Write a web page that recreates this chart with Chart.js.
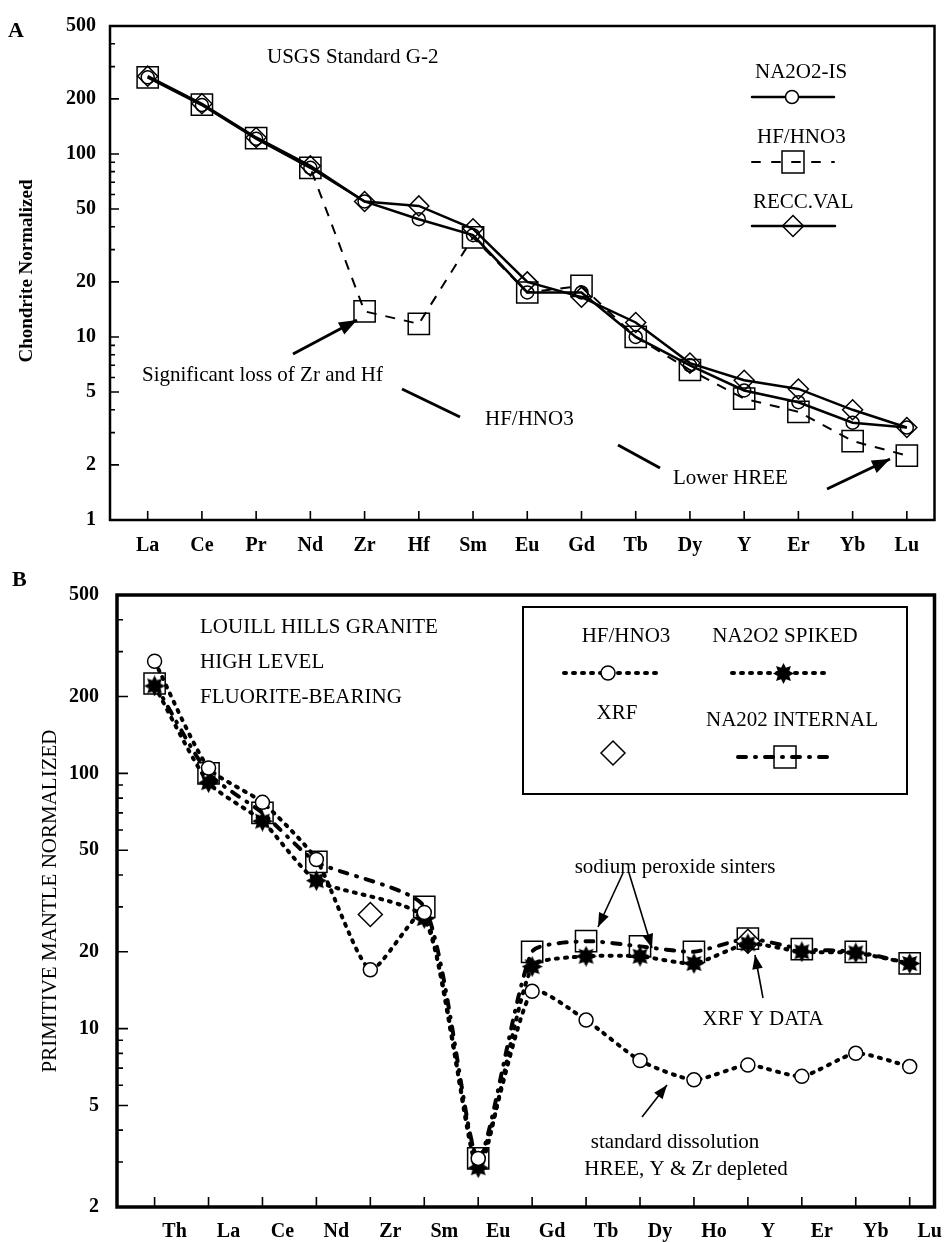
<!DOCTYPE html>
<html>
<head>
<meta charset="utf-8">
<script src="https://cdn.jsdelivr.net/npm/chart.js"></script>
<style>
  body { margin: 0; background: #fff; }
  canvas { position: absolute; left: 0; }
  #chartA { top: 0; }
  #chartB { top: 560px; }
</style>
</head>
<body>
<canvas id="chartA" width="951" height="560"></canvas>
<canvas id="chartB" width="951" height="682"></canvas>
<script>
// ---- A: USGS standard G-2, chondrite normalized
const elementsA = ['La','Ce','Pr','Nd','Zr','Hf','Sm','Eu','Gd','Tb','Dy','Y','Er','Yb','Lu'];
const na2o2IS  = [262, 185, 121, 84, 55, 44, 36, 17.5, 17.5, 10, 7.0, 5.1, 4.4, 3.4, 3.2];
const hfHno3A  = [262, 186, 122, 84, 13.8, 11.8, 35, 17.5, 19, 10, 6.6, 4.6, 3.9, 2.7, 2.25];
const reccVal  = [266, 188, 123, 86, 55, 52, 39, 20, 16.5, 12, 7.2, 5.8, 5.2, 4.0, 3.2];
const yTicksA  = [1, 2, 5, 10, 20, 50, 100, 200, 500];

// ---- B: Louill Hills granite, primitive mantle normalized
const elementsB    = ['Th','La','Ce','Nd','Zr','Sm','Eu','Gd','Tb','Dy','Ho','Y','Er','Yb','Lu'];
const hfHno3B      = [275, 105, 77, 46, 17, 28.5, 3.1, 14, 10.8, 7.5, 6.3, 7.2, 6.5, 8.0, 7.1];
const na2o2Spiked  = [220, 92, 65, 38, null, 27, 2.85, 17.5, 19.2, 19.2, 18, 21.5, 20, 19.8, 18];
const xrf          = [null, null, null, null, 28, null, null, null, null, null, null, 22, null, null, null];
const na2o2Intern  = [225, 100, 70, 45, null, 30, 3.1, 20, 22, 21, 20, 22.5, 20.5, 20, 18];
const yTicksB      = [2, 5, 10, 20, 50, 100, 200, 500];

const SERIF = '"Liberation Serif", "Times New Roman", serif';
const CLEAR = 'rgba(0,0,0,0)';

const pts = arr => arr.map((v, i) => ({ x: i, y: v }));

function logTicks(min, max) {
  const out = [];
  for (let e = 0; e < 4; e++) {
    for (let s = 1; s < 10; s++) {
      const v = s * Math.pow(10, e);
      if (v >= min && v <= max) out.push(v);
    }
  }
  return out;
}

function starImage(size) {
  const c = document.createElement('canvas');
  c.width = c.height = size;
  const g = c.getContext('2d');
  const m = size / 2;
  g.beginPath();
  for (let i = 0; i < 16; i++) {
    const r = i % 2 ? size * 0.3 : m;
    const a = -Math.PI / 2 + i * Math.PI / 8;
    g.lineTo(m + r * Math.cos(a), m + r * Math.sin(a));
  }
  g.closePath();
  g.fillStyle = '#000';
  g.fill();
  return c;
}
const star = starImage(21);

// frame round the plot and inward tick marks
function frame(lw, majorLen, minorLen, xLen, labelled) {
  return {
    id: 'frame',
    afterDraw(chart) {
      const { ctx, chartArea: a, scales: { x, y } } = chart;
      ctx.save();
      ctx.strokeStyle = '#000';
      ctx.lineWidth = lw;
      ctx.strokeRect(a.left, a.top, a.right - a.left, a.bottom - a.top);
      ctx.lineWidth = 1.6;
      ctx.beginPath();
      y.ticks.forEach(t => {
        const py = y.getPixelForValue(t.value);
        const len = labelled.includes(t.value) ? majorLen : minorLen;
        ctx.moveTo(a.left, py);
        ctx.lineTo(a.left + len, py);
      });
      x.ticks.forEach(t => {
        const px = x.getPixelForValue(t.value);
        ctx.moveTo(px, a.bottom);
        ctx.lineTo(px, a.bottom - xLen);
      });
      ctx.stroke();
      ctx.restore();
    }
  };
}

function txt(c, s, x, y, font, align) {
  c.font = font;
  c.textAlign = align || 'left';
  c.textBaseline = 'middle';
  c.fillText(s, x, y);
}

function arrow(c, x1, y1, x2, y2, lw, head) {
  c.lineWidth = lw;
  c.beginPath();
  c.moveTo(x1, y1);
  c.lineTo(x2, y2);
  c.stroke();
  if (!head) return;
  const ang = Math.atan2(y2 - y1, x2 - x1);
  const w = head * 0.38;
  c.beginPath();
  c.moveTo(x2, y2);
  c.lineTo(x2 - head * Math.cos(ang) + w * Math.sin(ang), y2 - head * Math.sin(ang) - w * Math.cos(ang));
  c.lineTo(x2 - head * Math.cos(ang) - w * Math.sin(ang), y2 - head * Math.sin(ang) + w * Math.cos(ang));
  c.closePath();
  c.fill();
}

function circle(c, x, y, r) {
  c.beginPath();
  c.arc(x, y, r, 0, Math.PI * 2);
  c.fillStyle = '#fff';
  c.fill();
  c.stroke();
  c.fillStyle = '#000';
}

function diamond(c, x, y, r) {
  c.beginPath();
  c.moveTo(x, y - r); c.lineTo(x + r, y); c.lineTo(x, y + r); c.lineTo(x - r, y);
  c.closePath();
  c.stroke();
}

function sample(c, x1, x2, y, lw, dash) {
  c.save();
  c.lineWidth = lw;
  c.lineCap = 'round';
  c.setLineDash(dash);
  c.beginPath();
  c.moveTo(x1, y);
  c.lineTo(x2, y);
  c.stroke();
  c.restore();
}

const F = '21px ' + SERIF;

const annotA = {
  id: 'annotA',
  afterDraw(chart) {
    const c = chart.ctx;
    c.save();
    c.fillStyle = '#000';
    c.strokeStyle = '#000';
    txt(c, 'A', 8, 31, 'bold 22px ' + SERIF);
    txt(c, 'USGS Standard G-2', 267, 57, F);

    // legend
    txt(c, 'NA2O2-IS', 755, 72, F);
    sample(c, 752, 834, 97, 2.5, []);
    c.lineWidth = 1.5; circle(c, 792, 97, 6.5);
    txt(c, 'HF/HNO3', 757, 137, F);
    sample(c, 752, 834, 162, 2, [8, 12]);
    c.lineWidth = 1.5; c.strokeRect(782, 151, 22, 22);
    txt(c, 'RECC.VAL', 753, 202, F);
    sample(c, 752, 835, 226, 2.5, []);
    c.lineWidth = 1.5; diamond(c, 793, 226, 10.5);

    // notes
    txt(c, 'Significant loss of Zr and Hf', 142, 375, F);
    arrow(c, 293, 354, 357, 320, 3, 18);
    txt(c, 'HF/HNO3', 485, 419, F);
    arrow(c, 402, 389, 460, 417, 3, 0);
    arrow(c, 618, 445, 660, 468, 3, 0);
    txt(c, 'Lower HREE', 673, 478, F);
    arrow(c, 827, 489, 890, 459, 3, 18);

    c.save();
    c.translate(27, 271);
    c.rotate(-Math.PI / 2);
    txt(c, 'Chondrite Normalized', 0, 0, 'bold 19px ' + SERIF, 'center');
    c.restore();
    c.restore();
  }
};

const OB = 560; // top of chart B canvas on the page
const annotB = {
  id: 'annotB',
  afterDraw(chart) {
    const c = chart.ctx;
    c.save();
    c.translate(0, -OB);
    c.fillStyle = '#000';
    c.strokeStyle = '#000';
    txt(c, 'B', 12, 580, 'bold 22px ' + SERIF);
    txt(c, 'LOUILL HILLS GRANITE', 200, 627, F);
    txt(c, 'HIGH LEVEL', 200, 662, F);
    txt(c, 'FLUORITE-BEARING', 200, 697, F);

    // legend box
    c.lineWidth = 2;
    c.strokeRect(523, 607, 384, 187);
    txt(c, 'HF/HNO3', 626, 636, F, 'center');
    sample(c, 564, 659, 673, 4, [2, 7]);
    c.lineWidth = 1.5; circle(c, 608, 673, 7);
    txt(c, 'NA2O2 SPIKED', 785, 636, F, 'center');
    sample(c, 732, 825, 673, 4, [2, 7]);
    c.drawImage(star, 773, 663);
    txt(c, 'XRF', 617, 713, F, 'center');
    c.lineWidth = 1.5; diamond(c, 613, 753, 12);
    txt(c, 'NA202 INTERNAL', 792, 720, F, 'center');
    sample(c, 738, 827, 757, 4, [8, 9, 1, 9]);
    c.lineWidth = 1.5; c.strokeRect(774, 746, 22, 22);

    // notes
    txt(c, 'sodium peroxide sinters', 675, 867, F, 'center');
    arrow(c, 623, 873, 598, 927, 1.6, 14);
    arrow(c, 629, 873, 652, 948, 1.6, 14);
    txt(c, 'XRF Y DATA', 763, 1019, F, 'center');
    arrow(c, 763, 998, 755, 955, 1.6, 14);
    txt(c, 'standard dissolution', 675, 1142, F, 'center');
    txt(c, 'HREE, Y & Zr depleted', 686, 1169, F, 'center');
    arrow(c, 642, 1117, 667, 1085, 1.6, 14);

    c.save();
    c.translate(50, 901);
    c.rotate(-Math.PI / 2);
    txt(c, 'PRIMITIVE MANTLE NORMALIZED', 0, 0, F, 'center');
    c.restore();
    c.restore();
  }
};

const tickFont = { family: SERIF, size: 20, weight: 'bold' };

new Chart(document.getElementById('chartA'), {
  type: 'line',
  data: {
    datasets: [
      { label: 'NA2O2-IS', data: pts(na2o2IS), borderColor: '#000', borderWidth: 2.5,
        pointStyle: 'circle', pointRadius: 6.5, pointBorderWidth: 1.5,
        pointBorderColor: '#000', pointBackgroundColor: CLEAR, tension: 0 },
      { label: 'HF/HNO3', data: pts(hfHno3A), borderColor: '#000', borderWidth: 2, borderDash: [10, 9],
        pointStyle: 'rect', pointRadius: 15, pointBorderWidth: 1.5,
        pointBorderColor: '#000', pointBackgroundColor: CLEAR, tension: 0 },
      { label: 'RECC.VAL', data: pts(reccVal), borderColor: '#000', borderWidth: 2.5,
        pointStyle: 'rectRot', pointRadius: 10, pointBorderWidth: 1.5,
        pointBorderColor: '#000', pointBackgroundColor: CLEAR, tension: 0 }
    ]
  },
  options: {
    responsive: false,
    animation: false,
    events: [],
    layout: { padding: { top: 18, right: 9, left: 0, bottom: 0 } },
    plugins: { legend: { display: false }, tooltip: { enabled: false } },
    scales: {
      x: {
        type: 'linear', min: -0.695, max: 14.51,
        afterFit(s) { s.height = 40; },
        grid: { display: false, drawTicks: false }, border: { display: false },
        ticks: { stepSize: 1, includeBounds: false, autoSkip: false, maxRotation: 0, padding: 14,
                 color: '#000', font: tickFont, callback: v => elementsA[v] ?? '' }
      },
      y: {
        type: 'logarithmic', min: 1, max: 500,
        afterFit(s) { s.width = 110; },
        afterBuildTicks(s) { s.ticks = logTicks(1, 500).map(v => ({ value: v })); },
        grid: { display: false, drawTicks: false }, border: { display: false },
        ticks: { autoSkip: false, padding: 14, color: '#000', font: tickFont,
                 callback: v => yTicksA.includes(v) ? String(v) : '' }
      }
    }
  },
  plugins: [frame(2.5, 9, 5, 9, yTicksA), annotA]
});

new Chart(document.getElementById('chartB'), {
  type: 'line',
  data: {
    datasets: [
      { label: 'HF/HNO3', data: pts(hfHno3B), borderColor: '#000', borderWidth: 4, borderDash: [2, 7],
        borderCapStyle: 'round', pointStyle: 'circle', pointRadius: 7, pointBorderWidth: 1.5,
        pointBorderColor: '#000', pointBackgroundColor: '#fff', tension: 0.2, spanGaps: true },
      { label: 'NA2O2 SPIKED', data: pts(na2o2Spiked), borderColor: '#000', borderWidth: 4, borderDash: [2, 7],
        borderCapStyle: 'round', pointStyle: star, tension: 0.2, spanGaps: true },
      { label: 'XRF', data: pts(xrf), showLine: false, pointStyle: 'rectRot', pointRadius: 12,
        pointBorderWidth: 1.5, pointBorderColor: '#000', pointBackgroundColor: '#fff' },
      { label: 'NA202 INTERNAL', data: pts(na2o2Intern), borderColor: '#000', borderWidth: 4,
        borderDash: [8, 9, 1, 9], borderCapStyle: 'round', pointStyle: 'rect', pointRadius: 15,
        pointBorderWidth: 1.5, pointBorderColor: '#000', pointBackgroundColor: CLEAR,
        tension: 0.2, spanGaps: true }
    ]
  },
  options: {
    responsive: false,
    animation: false,
    events: [],
    layout: { padding: { top: 35, right: 8, left: 0, bottom: 0 } },
    plugins: { legend: { display: false }, tooltip: { enabled: false } },
    scales: {
      x: {
        type: 'linear', min: -0.697, max: 14.46,
        afterFit(s) { s.height = 35; },
        grid: { display: false, drawTicks: false }, border: { display: false },
        ticks: { stepSize: 1, includeBounds: false, autoSkip: false, maxRotation: 0, padding: 13,
                 labelOffset: 20, color: '#000', font: tickFont, callback: v => elementsB[v] ?? '' }
      },
      y: {
        type: 'logarithmic', min: 2, max: 500,
        afterFit(s) { s.width = 117; },
        afterBuildTicks(s) { s.ticks = logTicks(2, 500).map(v => ({ value: v })); },
        grid: { display: false, drawTicks: false }, border: { display: false },
        ticks: { autoSkip: false, padding: 18, color: '#000', font: tickFont,
                 callback: v => yTicksB.includes(v) ? String(v) : '' }
      }
    }
  },
  plugins: [frame(3.5, 11, 6, 10, yTicksB), annotB]
});
</script>
</body>
</html>
